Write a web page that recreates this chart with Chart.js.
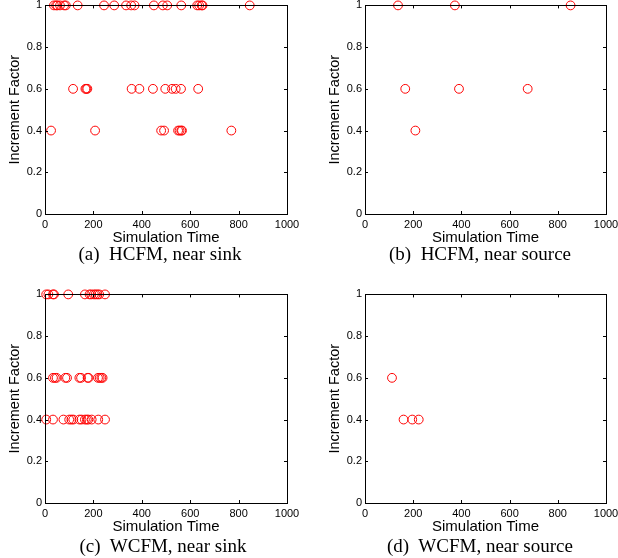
<!DOCTYPE html>
<html>
<head>
<meta charset="utf-8">
<script src="https://cdn.jsdelivr.net/npm/chart.js@4"></script>
<style>
  body { margin: 0; background: #fff; }
  #wrap { position: relative; width: 618px; height: 558px; overflow: hidden; }
  canvas { position: absolute; }
  .cap { position: absolute; font-family: "Liberation Serif", "Times New Roman", serif; font-size: 19px; color: #000; white-space: pre; transform: translateX(-50%); line-height: 1; }
</style>
</head>
<body>
<div id="wrap">
  <canvas id="chartA" width="300" height="265" style="left:0;top:0"></canvas>
  <canvas id="chartB" width="298" height="265" style="left:320px;top:0"></canvas>
  <canvas id="chartC" width="300" height="265" style="left:0;top:289px"></canvas>
  <canvas id="chartD" width="298" height="265" style="left:320px;top:289px"></canvas>
  <div class="cap" style="left:160px;top:244px">(a)  HCFM, near sink</div>
  <div class="cap" style="left:480px;top:244px">(b)  HCFM, near source</div>
  <div class="cap" style="left:163px;top:536px">(c)  WCFM, near sink</div>
  <div class="cap" style="left:480px;top:536px">(d)  WCFM, near source</div>
</div>
<script>
// (a) HCFM, near sink
const hcfmSinkTimes = [37, 46, 51, 62, 79, 86, 135, 244, 286, 335, 356, 370, 450, 487, 505, 563, 629, 637, 647, 651, 846,
                       116, 167, 171, 175, 358, 390, 446, 497, 525, 540, 562, 633,
                       25, 207, 480, 492, 550, 556, 563, 566, 770];
const hcfmSinkFactors = [1, 1, 1, 1, 1, 1, 1, 1, 1, 1, 1, 1, 1, 1, 1, 1, 1, 1, 1, 1, 1,
                         0.6, 0.6, 0.6, 0.6, 0.6, 0.6, 0.6, 0.6, 0.6, 0.6, 0.6, 0.6,
                         0.4, 0.4, 0.4, 0.4, 0.4, 0.4, 0.4, 0.4, 0.4];

// (b) HCFM, near source
const hcfmSourceTimes = [137, 373, 853, 167, 390, 675, 209];
const hcfmSourceFactors = [1, 1, 1, 0.6, 0.6, 0.6, 0.4];

// (c) WCFM, near sink
const wcfmSinkTimes = [5, 14, 33, 37, 96, 165, 184, 191, 202, 209, 217, 224, 248,
                       33, 41, 48, 84, 91, 142, 149, 176, 180, 219, 226, 233, 238,
                       5, 33, 76, 100, 109, 117, 142, 151, 165, 173, 179, 193, 220, 248];
const wcfmSinkFactors = [1, 1, 1, 1, 1, 1, 1, 1, 1, 1, 1, 1, 1,
                         0.6, 0.6, 0.6, 0.6, 0.6, 0.6, 0.6, 0.6, 0.6, 0.6, 0.6, 0.6, 0.6,
                         0.4, 0.4, 0.4, 0.4, 0.4, 0.4, 0.4, 0.4, 0.4, 0.4, 0.4, 0.4, 0.4, 0.4];

// (d) WCFM, near source
const wcfmSourceTimes = [112, 160, 196, 223];
const wcfmSourceFactors = [0.6, 0.4, 0.4, 0.4];

const xTicks = [0, 200, 400, 600, 800, 1000];
const yTicks = [0, 0.2, 0.4, 0.6, 0.8, 1];

// box around the plot plus MATLAB style inward ticks
const boxPlugin = {
    id: 'box',
    afterDraw(chart) {
        const ctx = chart.ctx;
        const a = chart.chartArea;
        const xs = chart.scales.x, ys = chart.scales.y;
        ctx.save();
        ctx.strokeStyle = '#000';
        ctx.lineWidth = 1;
        ctx.beginPath();
        xTicks.forEach(function (v) {
            const px = Math.round(xs.getPixelForValue(v)) + 0.5;
            ctx.moveTo(px, a.bottom); ctx.lineTo(px, a.bottom - 3);
            ctx.moveTo(px, a.top); ctx.lineTo(px, a.top + 3);
        });
        yTicks.forEach(function (v) {
            const py = Math.round(ys.getPixelForValue(v)) + 0.5;
            ctx.moveTo(a.left, py); ctx.lineTo(a.left + 3, py);
            ctx.moveTo(a.right, py); ctx.lineTo(a.right - 3, py);
        });
        ctx.stroke();
        ctx.strokeRect(Math.round(a.left) + 0.5, Math.round(a.top) + 0.5,
                       Math.round(a.right - a.left), Math.round(a.bottom - a.top));
        ctx.restore();
    }
};

function makeChart(id, times, factors, padRight) {
    const points = times.map(function (t, i) { return { x: t, y: factors[i] }; });
    const font = { family: '"Liberation Sans", Arial, sans-serif', size: 11 };
    return new Chart(document.getElementById(id).getContext('2d'), {
        type: 'scatter',
        data: {
            datasets: [{
                data: points,
                pointStyle: 'circle',
                pointRadius: 4.4,
                pointHoverRadius: 4.4,
                pointBorderWidth: 1,
                borderColor: '#ff0000',
                backgroundColor: 'rgba(0,0,0,0)',
                clip: false
            }]
        },
        options: {
            responsive: false,
            animation: false,
            events: [],
            layout: { padding: { left: 6, right: padRight, top: 5, bottom: 18 } },
            plugins: { legend: { display: false }, tooltip: { enabled: false } },
            scales: {
                x: {
                    type: 'linear',
                    min: 0, max: 1000,
                    afterBuildTicks: function (s) { s.ticks = xTicks.map(function (v) { return { value: v }; }); },
                    afterFit: function (s) { s.height = 33; s.paddingLeft = 0; s.paddingRight = 0; },
                    grid: { display: false, drawTicks: false },
                    border: { display: false },
                    ticks: { color: '#000', font: font, padding: 4, maxRotation: 0, autoSkip: false,
                             callback: function (v) { return String(v); } },
                    title: { display: true, text: 'Simulation Time', color: '#000', padding: 0,
                             font: { family: '"Liberation Sans", Arial, sans-serif', size: 15 } }
                },
                y: {
                    type: 'linear',
                    min: 0, max: 1,
                    afterBuildTicks: function (s) { s.ticks = yTicks.map(function (v) { return { value: v }; }); },
                    afterFit: function (s) { s.width = 39; s.paddingTop = 0; s.paddingBottom = 0; },
                    grid: { display: false, drawTicks: false },
                    border: { display: false },
                    ticks: { color: '#000', font: font, padding: 3, autoSkip: false,
                             callback: function (v) { return String(v); } },
                    title: { display: true, text: 'Increment Factor', color: '#000', padding: 0,
                             font: { family: '"Liberation Sans", Arial, sans-serif', size: 14.5 } }
                }
            }
        },
        plugins: [boxPlugin]
    });
}

makeChart('chartA', hcfmSinkTimes, hcfmSinkFactors, 13);
makeChart('chartB', hcfmSourceTimes, hcfmSourceFactors, 12);
makeChart('chartC', wcfmSinkTimes, wcfmSinkFactors, 13);
makeChart('chartD', wcfmSourceTimes, wcfmSourceFactors, 12);
</script>
</body>
</html>
